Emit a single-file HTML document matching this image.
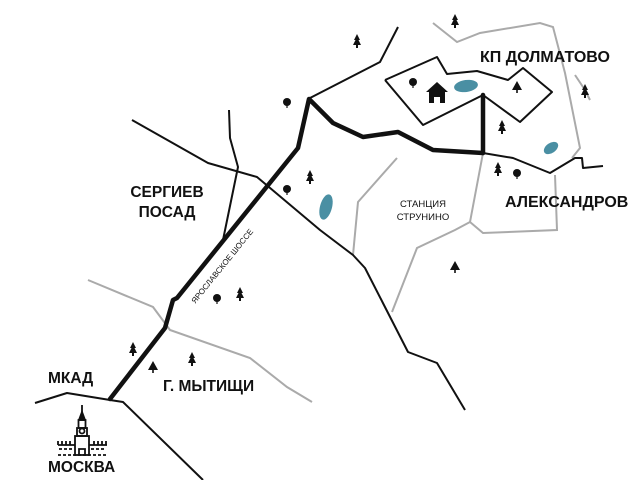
<!DOCTYPE html>
<html><head><meta charset="utf-8"><style>
html,body{margin:0;padding:0;background:#fff;}
svg{display:block;}
text{font-family:"Liberation Sans",sans-serif;fill:#111;}
</style></head><body>
<svg width="640" height="480" viewBox="0 0 640 480" xmlns="http://www.w3.org/2000/svg">
<defs>
<g id="tree"><path d="M0,-8 L-3,-2 L-1.5,-2 L-4,3 L-1,3 L-1,6 L1,6 L1,3 L4,3 L1.5,-2 L3,-2 Z" fill="#111"/></g>
<g id="tri"><path d="M0,-6 L-5,3 L5,3 Z M-0.8,3 L-0.8,6 L0.8,6 L0.8,3Z" fill="#111"/></g>
<g id="dot"><circle cx="0" cy="-1" r="4" fill="#111"/><rect x="-0.6" y="2" width="1.2" height="3" fill="#111"/></g>
</defs>
<g fill="none" stroke="#aaa" stroke-width="2">
<polyline points="433,23 457,42 480,33 540,23 553,27 565,73 580,148 572,158"/>
<polyline points="470,222 483,233 557,230 555,175"/>
<polyline points="483,153 470,222 455,230 417,248 392,312"/>
<polyline points="397,158 358,202 353,255"/>
<polyline points="88,280 153,307 170,330 250,358 287,387 312,402"/>
<polyline points="575,75 585,90 590,100"/>
</g>
<g fill="none" stroke="#111" stroke-width="2" stroke-linejoin="round">
<polyline points="310,98 380,62 398,27"/>
<polyline points="132,120 208,163 257,177 320,230 353,255 365,268 408,352 437,363 465,410"/>
<polyline points="229,110 230,138 238,167 223,240"/>
<polyline points="35,403 67,393 110,400 123,402 203,480"/>
<polyline points="385,80 437,57 447,74 477,71 508,80 523,68 552,92 520,122 483,95 423,125 385,80"/>
<polyline points="483,153 513,158 550,173 575,158 582,158 583,168 603,166"/>
</g>
<g fill="none" stroke="#111" stroke-width="4.5" stroke-linejoin="round" stroke-linecap="round">
<polyline points="110,399 165,328 173,300 177,298 298,148 309,99 333,123 363,137 398,132 433,150 483,153"/>
<line x1="483" y1="95" x2="483" y2="153"/>
</g>
<g fill="#4a8fa3">
<ellipse cx="466" cy="86" rx="12" ry="6" transform="rotate(-8 466 86)"/>
<ellipse cx="551" cy="148" rx="8" ry="5" transform="rotate(-35 551 148)"/>
<ellipse cx="326" cy="207" rx="6" ry="13" transform="rotate(15 326 207)"/>
</g>
<path d="M437,82 L448,92 L445,92 L445,103 L440,103 L440,97 L434,97 L434,103 L429,103 L429,92 L426,92 Z" fill="#111"/>
<use href="#tree" x="357" y="42"/><use href="#tree" x="455" y="22"/><use href="#tree" x="310" y="178"/>
<use href="#tree" x="502" y="128"/><use href="#tree" x="498" y="170"/><use href="#tree" x="585" y="92"/>
<use href="#tree" x="240" y="295"/><use href="#tree" x="133" y="350"/><use href="#tree" x="192" y="360"/>
<use href="#tri" x="517" y="87"/><use href="#tri" x="455" y="267"/><use href="#tri" x="153" y="367"/>
<use href="#dot" x="413" y="83"/><use href="#dot" x="517" y="174"/><use href="#dot" x="287" y="103"/>
<use href="#dot" x="287" y="190"/><use href="#dot" x="217" y="299"/>
<g fill="none" stroke="#111" stroke-width="1.8">
<line x1="82" y1="405" x2="82" y2="412"/>
<path d="M79,420 L82,412 L85,420 Z" fill="#111"/>
<rect x="78.5" y="420" width="7" height="8"/>
<circle cx="82" cy="431" r="2.5"/>
<rect x="77" y="428" width="10" height="8"/>
<rect x="75" y="436" width="14" height="19"/>
<path d="M58,445 L75,445 M89,445 L107,445 M58,441 v4 M62,441 v4 M66,441 v4 M70,441 v4 M94,441 v4 M98,441 v4 M102,441 v4 M106,441 v4"/>
<path d="M59,449 h14 M91,449 h14 M58,455 h49" stroke-dasharray="3 2"/>
<path d="M79,455 v-6 h6 v6"/>
</g>
<g font-weight="bold">
<text x="480" y="62" font-size="16">КП ДОЛМАТОВО</text>
<text x="505" y="207" font-size="16">АЛЕКСАНДРОВ</text>
<text x="167" y="197" font-size="15.5" text-anchor="middle">СЕРГИЕВ</text>
<text x="167" y="217" font-size="15.5" text-anchor="middle">ПОСАД</text>
<text x="48" y="383" font-size="15.5">МКАД</text>
<text x="163" y="391" font-size="15.5">Г. МЫТИЩИ</text>
<text x="48" y="472" font-size="15.5">МОСКВА</text>
</g>
<text x="423" y="207" font-size="9.5" text-anchor="middle">СТАНЦИЯ</text>
<text x="423" y="220" font-size="9.5" text-anchor="middle">СТРУНИНО</text>
<text x="222" y="269" font-size="8" text-anchor="middle" transform="rotate(-51 222 266)">ЯРОСЛАВСКОЕ ШОССЕ</text>
</svg>
</body></html>
